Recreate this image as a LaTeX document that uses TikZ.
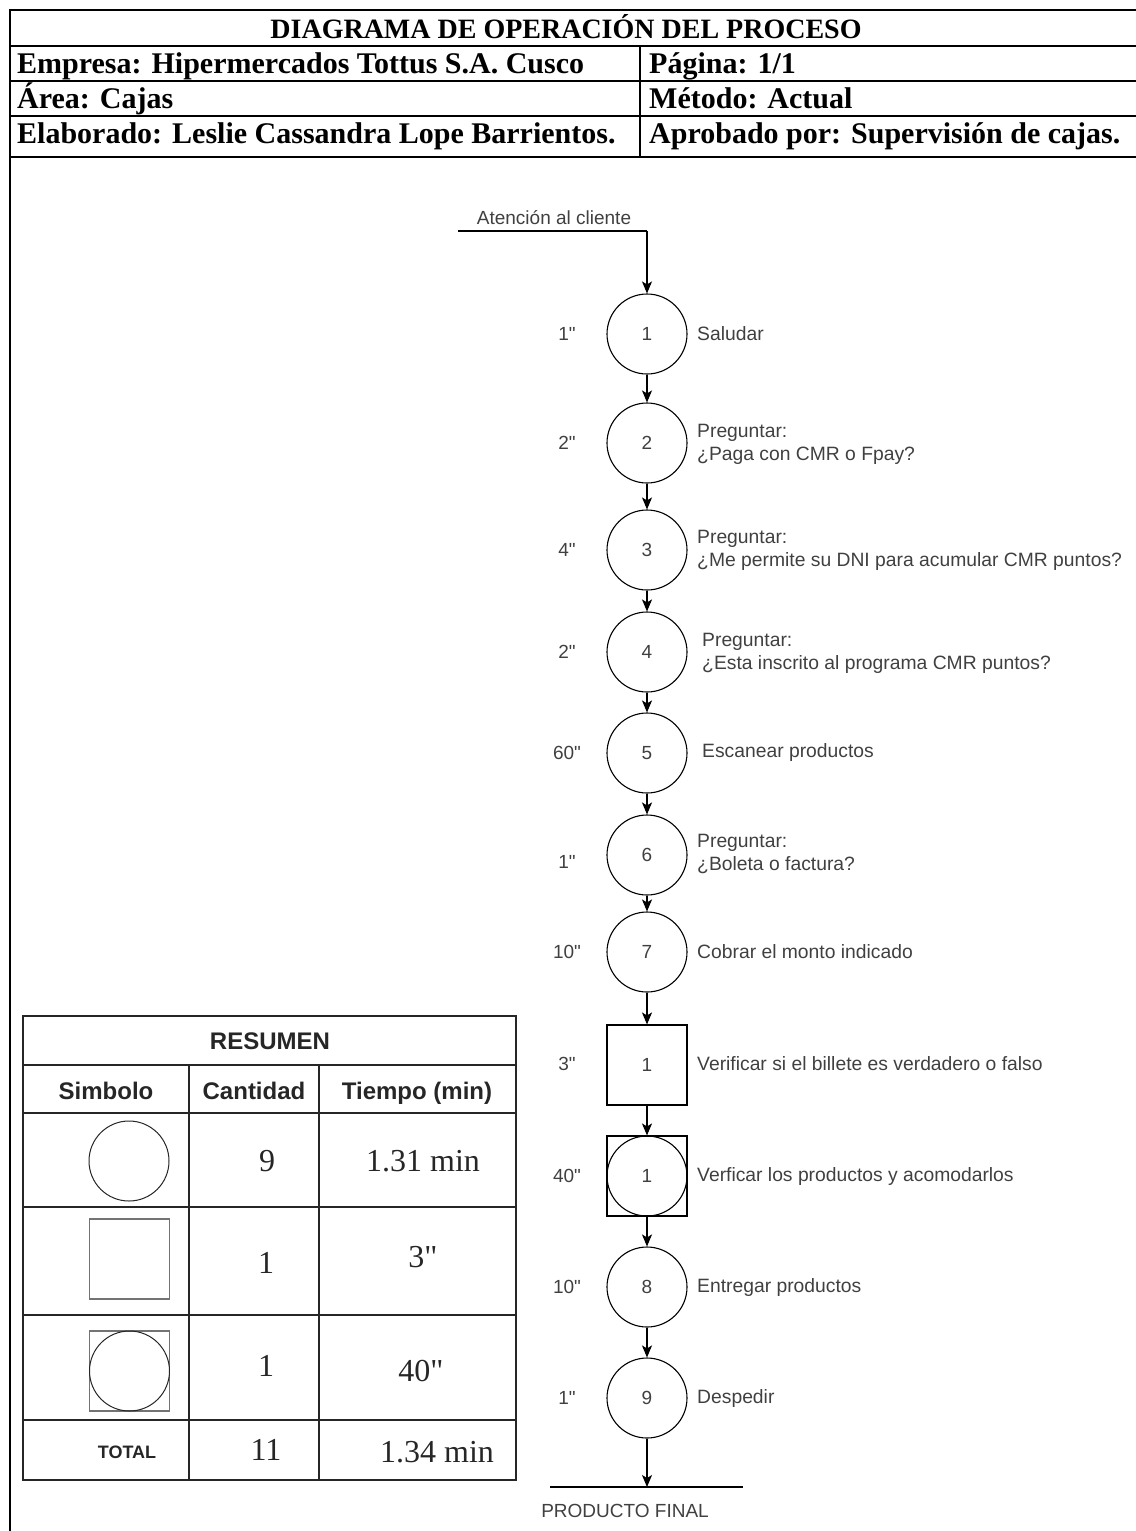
\documentclass[tikz,border=0pt]{standalone}
\usepackage{fontspec}
\setmainfont{Liberation Serif}[Ligatures=TeXOff]
\setsansfont{Liberation Sans}[Ligatures=TeXOff]
\usetikzlibrary{arrows.meta}

\tikzset{
  frameline/.style={line width=2.4pt},
  rowline/.style={line width=2pt},
  hdr/.style={font=\bfseries\fontsize{30}{36}\selectfont, anchor=base west, inner sep=0pt},
  op/.style={circle, draw, line width=1.1pt, minimum size=80pt, inner sep=0pt,
    font=\sffamily\fontsize{19}{23}\selectfont, text=black!75},
  insp/.style={rectangle, draw, line width=1.1pt, minimum size=80pt, inner sep=0pt,
    font=\sffamily\fontsize{19}{23}\selectfont, text=black!75},
  ring/.style={circle, draw, line width=1.1pt, minimum size=80pt, inner sep=0pt},
  flow/.style={line width=1.1pt, -{Stealth[length=12pt,width=10pt,inset=3pt]}},
  tlabel/.style={font=\sffamily\fontsize{19}{23}\selectfont, text=black!75, inner sep=0pt},
  desc/.style={anchor=west, align=left, inner sep=0pt,
    font=\sffamily\fontsize{19.3}{23}\selectfont, text=black!75},
  tabline/.style={line width=1.2pt, black!85},
  tabhead/.style={font=\sffamily\bfseries\fontsize{24}{28}\selectfont, text=black!85,
    anchor=base, inner sep=0pt},
  tabnum/.style={font=\fontsize{32}{36}\selectfont, text=black!85},
  symgray/.style={draw=black!55, line width=1.8pt, rectangle, minimum size=80pt, inner sep=0pt},
  symring/.style={draw=black!85, line width=1pt, circle, minimum size=80pt, inner sep=0pt},
}

\begin{document}
\begin{tikzpicture}[x=1pt,y=-1pt]
\useasboundingbox (0,0) rectangle (1135,1531);

% ---- header block ----
\draw[frameline] (10,1531) -- (10,10) -- (1140,10);
\draw[rowline] (10,46) -- (1140,46);
\draw[rowline] (10,81) -- (1140,81);
\draw[rowline] (10,116) -- (1140,116);
\draw[rowline] (10,157) -- (1140,157);
\draw[rowline] (640,46) -- (640,157);

\node[font=\bfseries\fontsize{28}{34}\selectfont, anchor=base, inner sep=0pt] (title) at (566,38)
  {DIAGRAMA DE OPERACIÓN DEL PROCESO};
\node[hdr] (empresa) at (17,73) {Empresa: Hipermercados Tottus S.A. Cusco};
\node[hdr] (area) at (17,108) {Área: Cajas};
\node[hdr] (elab) at (17,143) {Elaborado: Leslie Cassandra Lope Barrientos.};
\node[hdr] (pagina) at (649,73) {Página: 1/1};
\node[hdr] (metodo) at (649,108) {Método: Actual};
\node[hdr] (aprob) at (649,143) {Aprobado por: Supervisión de cajas.};

% ---- process flow ----
\coordinate (inA) at (458,231);
\coordinate (inB) at (647,231);
\node[tlabel] (inlbl) at (554,218) {Atención al cliente};

\node[op] (s1) at (647,334) {1};
\node[op] (s2) at (647,443) {2};
\node[op] (s3) at (647,550) {3};
\node[op] (s4) at (647,652) {4};
\node[op] (s5) at (647,753) {5};
\node[op] (s6) at (647,855) {6};
\node[op] (s7) at (647,952) {7};
\node[insp] (i1) at (647,1065) {1};
\node[insp] (c1) at (647,1176) {1};
\node[ring] (c1ring) at (647,1176) {};
\node[op] (s8) at (647,1287) {8};
\node[op] (s9) at (647,1398) {9};

\coordinate (endL) at (550,1487);
\coordinate (endR) at (743,1487);
\coordinate (endM) at (647,1487);
\node[tlabel] (endlbl) at (625,1511) {PRODUCTO FINAL};

\draw[line width=1.1pt] (inA) -- (inB);
\draw[flow] (inB) -- (s1);
\draw[flow] (s1) -- (s2);
\draw[flow] (s2) -- (s3);
\draw[flow] (s3) -- (s4);
\draw[flow] (s4) -- (s5);
\draw[flow] (s5) -- (s6);
\draw[flow] (s6) -- (s7);
\draw[flow] (s7) -- (i1);
\draw[flow] (i1) -- (c1);
\draw[flow] (c1) -- (s8);
\draw[flow] (s8) -- (s9);
\draw[flow] (s9) -- (endM);
\draw[line width=1.1pt] (endL) -- (endR);

% times
\node[tlabel] (t1) at (567,334) {1"};
\node[tlabel] (t2) at (567,443) {2"};
\node[tlabel] (t3) at (567,550) {4"};
\node[tlabel] (t4) at (567,652) {2"};
\node[tlabel] (t5) at (567,753) {60"};
\node[tlabel] (t6) at (567,862) {1"};
\node[tlabel] (t7) at (567,952) {10"};
\node[tlabel] (t8) at (567,1064) {3"};
\node[tlabel] (t9) at (567,1176) {40"};
\node[tlabel] (t10) at (567,1287) {10"};
\node[tlabel] (t11) at (567,1398) {1"};

% descriptions
\node[desc] (d1) at (697,334) {Saludar};
\node[desc] (d2) at (697,444) {Preguntar:\\¿Paga con CMR o Fpay?};
\node[desc] (d3) at (697,550) {Preguntar:\\¿Me permite su DNI para acumular CMR puntos?};
\node[desc] (d4) at (702,653) {Preguntar:\\¿Esta inscrito al programa CMR puntos?};
\node[desc] (d5) at (702,753) {Escanear productos};
\node[desc] (d6) at (697,854) {Preguntar:\\¿Boleta o factura?};
\node[desc] (d7) at (697,952) {Cobrar el monto indicado};
\node[desc] (d8) at (697,1064) {Verificar si el billete es verdadero o falso};
\node[desc] (d9) at (697,1176) {Verficar los productos y acomodarlos};
\node[desc] (d10) at (697,1287) {Entregar productos};
\node[desc] (d11) at (697,1398) {Despedir};

% ---- summary table ----
\draw[tabline] (23,1016) rectangle (516,1480);
\foreach \yy in {1065,1113,1207,1315,1420}
  \draw[tabline] (23,\yy) -- (516,\yy);
\draw[tabline] (189,1065) -- (189,1480);
\draw[tabline] (319,1065) -- (319,1480);

\node[tabhead] (resumen) at (270,1049) {RESUMEN};
\node[tabhead] (hsim) at (106,1099) {Simbolo};
\node[tabhead] (hcant) at (254,1099) {Cantidad};
\node[tabhead] (htiem) at (417,1099) {Tiempo (min)};

\node[symring] (symop) at (129,1161) {};
\node[symgray] (symin) at (129.5,1259) {};
\node[symgray] (symcb) at (129.5,1371) {};
\node[symring] (symcc) at (129.5,1371) {};

\node[tabnum] (n1) at (267,1161) {9};
\node[tabnum] (m1) at (423,1161) {1.31 min};
\node[tabnum] (n2) at (266,1263) {1};
\node[tabnum] (m2) at (423,1257) {3"};
\node[tabnum] (n3) at (266,1366) {1};
\node[tabnum] (m3) at (421,1371) {40"};
\node[font=\sffamily\bfseries\fontsize{18}{22}\selectfont, text=black!85] (tot) at (127,1452) {TOTAL};
\node[tabnum] (n4) at (266,1450) {11};
\node[tabnum] (m4) at (437,1452) {1.34 min};
\end{tikzpicture}
\end{document}
